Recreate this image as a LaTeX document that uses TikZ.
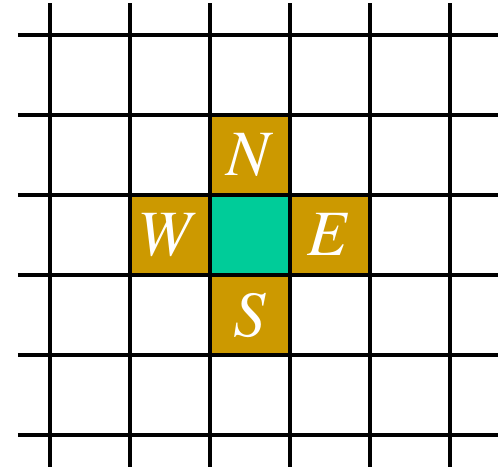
\documentclass[tikz,border=0pt]{standalone}
\usepackage{mathptmx}
\usepackage{xcolor}
\usepackage{tikz}
\usetikzlibrary{positioning}

\definecolor{cellgold}{RGB}{204,153,0}
\definecolor{cellteal}{RGB}{0,204,153}

\begin{document}
\begin{tikzpicture}[
  x=2cm, y=2cm,
  node distance=0pt,
  cell/.style={minimum size=2cm, inner sep=0pt, outer sep=0pt},
  nbr/.style={cell, fill=cellgold, text=white, font=\fontsize{46}{50}\selectfont},
  gridline/.style={line width=2.5pt},
]
\useasboundingbox (-0.625,-0.4375) rectangle (5.6375,5.4375);

\node[cell, fill=cellteal] (ctr) at (2.5,2.5) {};
\node[nbr, above=of ctr] (north) {$N$};
\node[nbr, left=of ctr] (west) {$W$};
\node[nbr, right=of ctr] (east) {$E$};
\node[nbr, below=of ctr] (south) {$S$};

% grid on top of the cells
\foreach \i in {0,...,5} {
  \draw[gridline] (\i,-0.4) -- (\i,5.4);
  \draw[gridline] (-0.4,\i) -- (5.6,\i);
}
\end{tikzpicture}
\end{document}
